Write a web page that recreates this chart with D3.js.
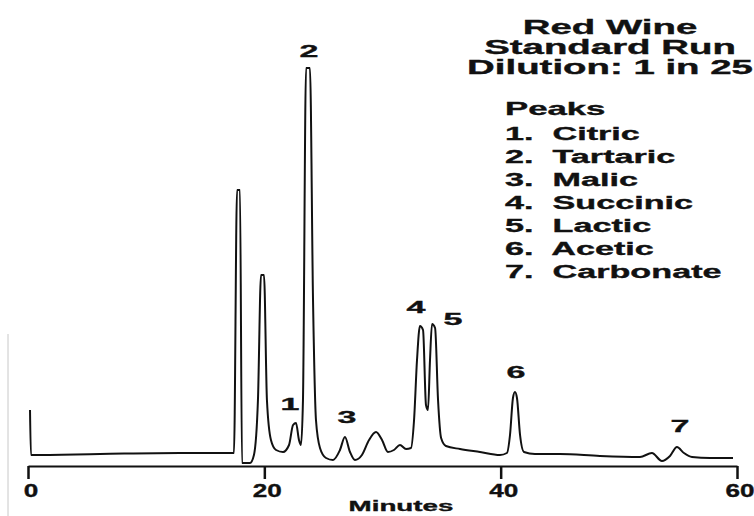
<!DOCTYPE html>
<html><head><meta charset="utf-8">
<script src="https://cdn.jsdelivr.net/npm/d3@7"></script>
<style>
html,body{margin:0;padding:0;background:#fff;}
text{font-family:"Liberation Sans",Arial,Helvetica,sans-serif;font-weight:bold;fill:#111;stroke:#111;stroke-width:0.35px;}
</style></head>
<body><svg id="chart" width="754" height="516"></svg>
<script>
// ---- data ----
const titleLines = ["Red Wine", "Standard Run", "Dilution: 1 in 25"];
const legendTitle = "Peaks";
const peakNames = ["Citric", "Tartaric", "Malic", "Succinic", "Lactic", "Acetic", "Carbonate"];
const xTicks = [0, 20, 40, 60];
const xLabel = "Minutes";
// chromatogram trace: retention time (min) and detector signal (arbitrary units)
const traceTime = [0.17, 0.25, 6.09, 12.86, 17.26, 17.43, 17.69, 17.94, 18.11, 18.79, 19.12, 19.46, 19.72, 19.97, 20.22, 20.56, 20.99, 21.58, 22.09, 22.43, 22.68, 22.93, 23.10, 23.27, 23.53, 23.86, 24.12, 24.37, 24.71, 25.22, 25.81, 26.40, 26.82, 27.25, 27.67, 28.26, 28.86, 29.45, 29.96, 30.46, 30.97, 31.48, 31.99, 32.41, 32.67, 32.92, 33.17, 33.43, 33.68, 33.85, 34.02, 34.19, 34.45, 34.70, 34.96, 35.37, 36.56, 38.25, 39.94, 40.53, 40.79, 41.04, 41.21, 41.38, 41.64, 41.97, 42.90, 45.02, 48.40, 51.79, 52.80, 53.65, 54.33, 54.92, 55.51, 56.19, 57.71, 59.66];
const traceSignal = [14, 2.75, 3, 3.25, 3.25, 3.25, 69, 69, 0.75, 0.75, 2.75, 16.5, 47.75, 47.75, 16.5, 6.5, 4, 3.5, 5.25, 10.25, 10.75, 6.5, 5.25, 16.5, 99.5, 99.5, 41.5, 11.5, 4.5, 2, 1.5, 4, 7.25, 3.5, 1.5, 2.75, 6.5, 8.5, 6.5, 3.5, 4, 5.25, 4.25, 4.5, 11.5, 26.5, 35, 34, 15.25, 14, 26.5, 35.5, 34.5, 16.5, 7, 5, 4.25, 3.5, 2.75, 3.25, 7.75, 17, 18.5, 17, 7.75, 3.5, 3, 3, 2.5, 2.25, 3.25, 1.25, 2.5, 4.75, 3.25, 2.25, 2, 2];
// peak number labels: number, retention time, label height (signal units)
const peakLabelNumbers = ["1", "2", "3", "4", "5", "6", "7"];
const peakLabelTimes = [22.17, 23.78, 27.0, 32.83, 35.97, 41.3, 55.17];
const peakLabelSignal = [14, 102.25, 10.75, 38.25, 35.25, 22, 8.5];

// ---- drawing ----
const svg = d3.select("#chart");
svg.append("rect").attr("width", 754).attr("height", 516).attr("fill", "#fff");

const x = d3.scaleLinear().domain([0, 60]).range([28, 737]);
const y = d3.scaleLinear().domain([0, 100]).range([466, 66]);

// faint scan border at left
svg.append("line").attr("x1", 8).attr("x2", 8).attr("y1", 334).attr("y2", 516)
  .attr("stroke", "#c8c8c8").attr("stroke-width", 1);

// axis
const axis = d3.axisBottom(x).tickValues(xTicks).tickSize(13).tickSizeOuter(0).tickFormat("");
const gAxis = svg.append("g").attr("transform", `translate(0,${y(0)})`).call(axis);
gAxis.select(".domain").attr("stroke", "#111").attr("stroke-width", 2);
gAxis.selectAll(".tick line").attr("stroke", "#111").attr("stroke-width", 2.5);

svg.selectAll("text.tickLabel").data(xTicks).join("text")
  .attr("class", "tickLabel")
  .attr("text-anchor", "middle")
  .attr("font-size", 18)
  .attr("transform", d => `translate(${x(d) + 3},497) scale(1.45,1)`)
  .text(d => d);

svg.append("text").attr("text-anchor", "middle").attr("font-size", 15)
  .attr("transform", `translate(401,511) scale(1.85,1)`).text(xLabel);

// trace
const pts = traceTime.map((t, i) => [t, traceSignal[i]]);
const line = d3.line().x(d => x(d[0])).y(d => y(d[1])).curve(d3.curveMonotoneX);
svg.append("path").attr("d", line(pts)).attr("fill", "none")
  .attr("stroke", "#111").attr("stroke-width", 2).attr("stroke-linejoin", "round");

// peak number labels
svg.selectAll("text.peakLabel").data(peakLabelNumbers).join("text")
  .attr("class", "peakLabel").attr("text-anchor", "middle").attr("font-size", 17)
  .attr("transform", (d, i) => `translate(${x(peakLabelTimes[i])},${y(peakLabelSignal[i])}) scale(2,1)`)
  .text(d => d);

// title
svg.selectAll("text.title").data(titleLines).join("text")
  .attr("class", "title").attr("text-anchor", "middle").attr("font-size", 20)
  .attr("transform", (d, i) => `translate(610,${34 + i * 20}) scale(1.92,1)`)
  .text(d => d);

// legend
svg.append("text").attr("font-size", 18)
  .attr("transform", `translate(505,115) scale(1.93,1)`).text(legendTitle);
svg.selectAll("text.legendItem").data(peakNames).join("text")
  .attr("class", "legendItem").attr("font-size", 18).attr("xml:space", "preserve")
  .attr("transform", (d, i) => `translate(505,${140 + i * 23}) scale(1.9,1)`)
  .text((d, i) => `${i + 1}.  ${d}`);
</script></body></html>
